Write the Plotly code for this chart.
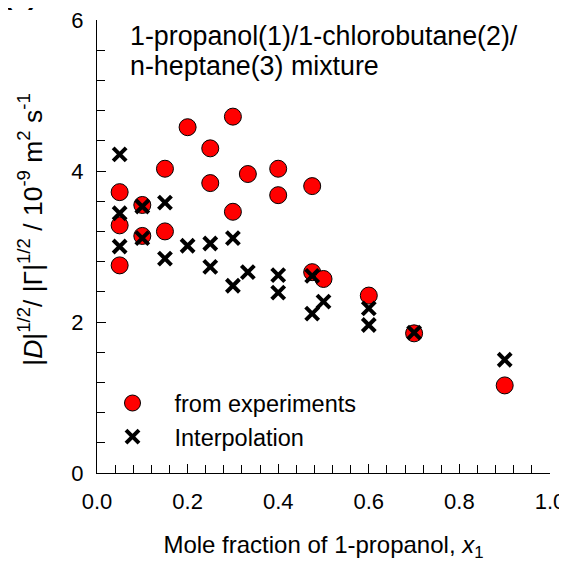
import plotly.graph_objects as go

# ---- data ----
exp_x = [0.05, 0.05, 0.05, 0.10, 0.10, 0.15, 0.15, 0.20, 0.25, 0.25, 0.30, 0.30,
         0.333, 0.40, 0.40, 0.475, 0.475, 0.50, 0.60, 0.70, 0.90]
exp_y = [3.72, 3.28, 2.75, 3.55, 3.14, 4.03, 3.20, 4.58, 4.30, 3.84, 4.72, 3.46,
         3.96, 4.03, 3.68, 3.80, 2.66, 2.57, 2.35, 1.85, 1.16]

int_x = [0.05, 0.05, 0.05, 0.10, 0.10, 0.15, 0.15, 0.20, 0.25, 0.25, 0.30, 0.30,
         0.333, 0.40, 0.40, 0.475, 0.475, 0.50, 0.60, 0.60, 0.70, 0.90]
int_y = [4.22, 3.44, 3.00, 3.53, 3.11, 3.58, 2.84, 3.01, 3.04, 2.73, 3.11, 2.48,
         2.66, 2.62, 2.39, 2.61, 2.11, 2.27, 2.18, 1.96, 1.86, 1.50]

x_ticks = [0.0, 0.2, 0.4, 0.6, 0.8, 1.0]
x_tick_labels = ["0.0", "0.2", "0.4", "0.6", "0.8", "1.0"]
y_ticks = [0, 2, 4, 6]
y_tick_labels = ["0", "2", "4", "6"]

FONT = "Liberation Sans, Arial, sans-serif"
FS_TICK = 22
FS_LEG = 23.5
FS_TITLE = 26.8
FS_XT = 24
FS_YT = 26.5

# the page body adds an 8 px offset, so the figure is 8 px smaller
OFF = 8
W, H = 567 - OFF, 562 - OFF
# plot area in page pixels
PL, PR, PT, PB = 96.5, 550.0, 20.0, 472.7
L, R, T, B = PL - OFF, 567 - PR, PT - OFF, 562 - PB
pw = PR - PL
ph = PB - PT


def px2paper_x(p):
    return (p - PL) / pw


def px2paper_y(p):
    return (PB - p) / ph


fig = go.Figure()
fig.add_trace(go.Scatter(
    x=exp_x, y=exp_y, mode="markers", name="from experiments",
    marker=dict(symbol="circle", size=17, color="#ff0000",
                line=dict(color="#000000", width=1)),
))
fig.add_trace(go.Scatter(
    x=int_x, y=int_y, mode="markers", name="Interpolation",
    marker=dict(symbol="x-thin", size=13, color="#000000",
                line=dict(color="#000000", width=4)),
))

axis_common = dict(
    showgrid=False, zeroline=False, showline=True, linecolor="black", linewidth=1.3,
    ticks="inside", ticklen=9, tickwidth=1.3, tickcolor="black",
    tickfont=dict(family=FONT, size=FS_TICK, color="black"),
    mirror=False, automargin=False, ticklabeloverflow="allow",
)

fig.update_layout(
    width=W, height=H,
    margin=dict(l=L, r=R, t=T, b=B, pad=0, autoexpand=False),
    paper_bgcolor="white", plot_bgcolor="white",
    font=dict(family=FONT, size=FS_TICK, color="black"),
    xaxis=dict(
        range=[0, 1], tickvals=x_ticks, ticktext=x_tick_labels,
        minor=dict(dtick=0.04, ticks="inside", ticklen=8, tickcolor="black", tickwidth=1.3),
        ticklabelstandoff=8,
        title=dict(text="Mole fraction of 1-propanol, <i>x</i><sub>1</sub>",
                   font=dict(family=FONT, size=FS_XT), standoff=38),
        **axis_common,
    ),
    yaxis=dict(
        range=[0, 6], tickvals=y_ticks, ticktext=y_tick_labels,
        minor=dict(dtick=0.4, ticks="inside", ticklen=8, tickcolor="black", tickwidth=1.3),
        ticklabelstandoff=8,
        **axis_common,
    ),
    showlegend=True,
    legend=dict(
        x=px2paper_x(90), y=px2paper_y(381), xanchor="left", yanchor="top",
        bgcolor="rgba(0,0,0,0)", font=dict(family=FONT, size=FS_LEG),
        itemwidth=74,
    ),
)

fig.add_annotation(
    text="1-propanol(1)/1-chlorobutane(2)/",
    xref="paper", yref="paper", x=px2paper_x(128), y=px2paper_y(53.3),
    xanchor="left", yanchor="bottom", align="left", showarrow=False,
    font=dict(family=FONT, size=FS_TITLE, color="black"),
)
fig.add_annotation(
    text="n-heptane(3) mixture",
    xref="paper", yref="paper", x=px2paper_x(128), y=px2paper_y(83.3),
    xanchor="left", yanchor="bottom", align="left", showarrow=False,
    font=dict(family=FONT, size=FS_TITLE, color="black"),
)

fig.add_annotation(
    text="|<i>D</i>|<sup>1/2</sup>/ |Γ|<sup>1/2</sup> / 10<sup>-9</sup> m<sup>2</sup> s<sup>-1</sup>",
    xref="paper", yref="paper", x=px2paper_x(30), y=px2paper_y(230),
    xanchor="center", yanchor="middle", textangle=-90, showarrow=False,
    font=dict(family=FONT, size=FS_YT, color="black"),
)

fig.add_annotation(
    text="<b>(c)</b>",
    xref="paper", yref="paper", x=px2paper_x(0), y=px2paper_y(12),
    xanchor="left", yanchor="bottom", showarrow=False,
    font=dict(family=FONT, size=28, color="black"),
)

fig.write_html("out.html")
